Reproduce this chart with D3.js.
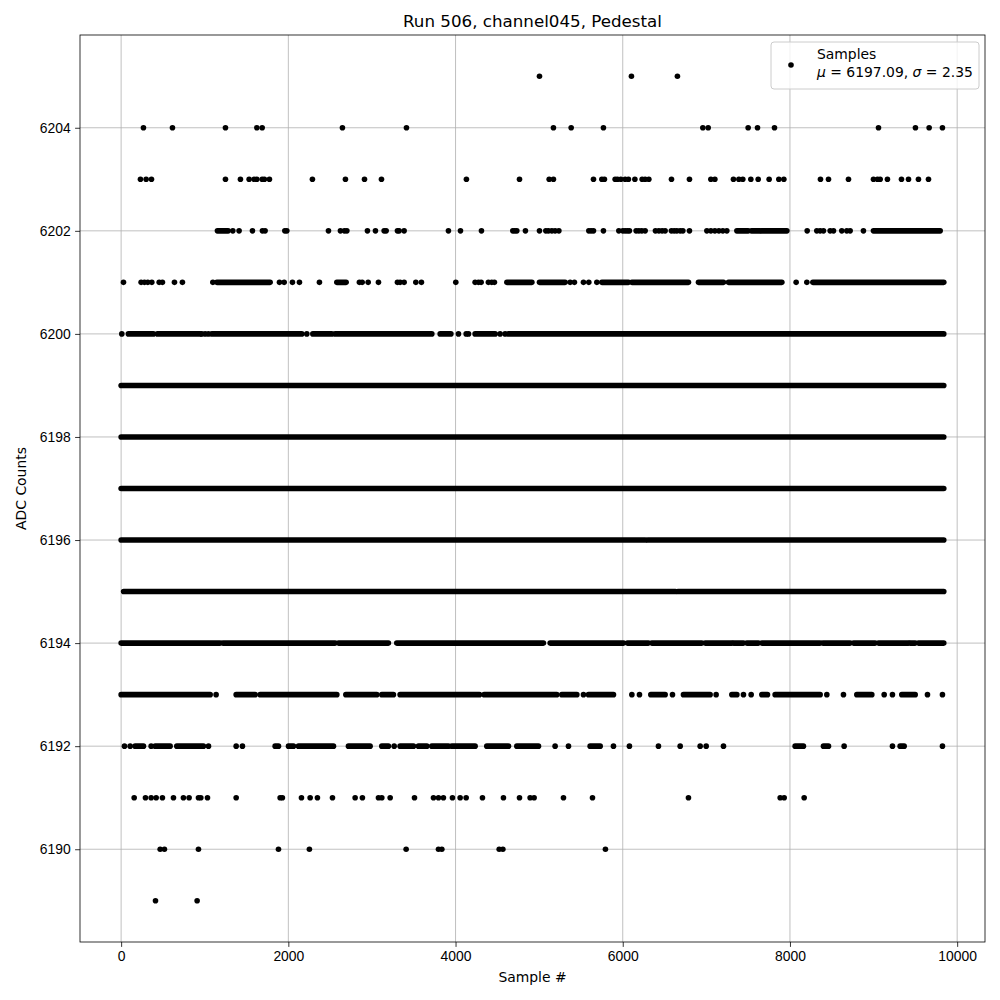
<!DOCTYPE html>
<meta charset="utf-8">
<style>
body { margin: 0; background: #fff; }
svg { font-family: "DejaVu Sans", sans-serif; }
.grid line { stroke: #b0b0b0; stroke-width: 0.8; }
.axis path, .axis line { stroke: #000; stroke-width: 0.8; }
.axis text { font-size: 13.9px; fill: #000; }
</style>
<svg width="1000" height="1000"></svg>
<script src="https://cdnjs.cloudflare.com/ajax/libs/d3/7.8.5/d3.min.js"></script>
<script>

// ADC level of each row, and for each row the sample numbers seen there.
// a plain number is one dot, a pair [from, to] is a run of dots that merge into a bar
var adcLevels = [6205, 6204, 6203, 6202, 6201, 6200, 6199, 6198, 6197, 6196, 6195, 6194, 6193, 6192, 6191, 6190, 6189];

var row6205 = [5004, 6104, 6654];
var row6204 = [267, 614, 1248, 1623, 1687, 2647, 3413, 5171, 5383, 5769, 6958, 7022, 7500, 7612, 7815, 9059, 9501, 9665, 9824];
var row6203 = [231, 299, 363, 1248, 1427, 1531, 1591, 1623, 1687, 1714, 1774, 2288, 2683, 2911, 3114, 4130, 4765, 5120, 5171,
  5650, 5750, 5781, 5909, 5937, 5977, 6029, 6068, 6145, 6232, 6268, 6312, 6583, 6798, 7054, 7102, 7324, 7389, 7436, 7532,
  7620, 7751, 7867, 7927, 8365, 8461, 8700, 8999, 9047, 9079, 9166, 9334, 9418, 9537, 9657];
var row6202 = [[1152, 1280], 1336, 1411, 1571, 1690, 1722, 1958, 1982, 2480, 2623, 2671, 2700, 2946, 3042, 3146, 3170, 3305, 3325,
  3385, 3915, 4059, 4310, 4685, 4709, 4733, 4836, 5004, 5080, 5111, 5152, 5191, 5236, 5594, 5622, 5650, 5769, 5953, 6001, 6029,
  6056, 6080, 6160, 6193, 6228, 6268, 6391, 6432, 6471, 6507, 6582, 6615, 6647, 6687, 6719, 6798, 7006, 7054, 7102, 7150, 7197,
  7245, [7365, 7500], [7540, 7640], [7660, 7963], 8206, 8321, 8361, 8401, 8481, 8521, 8620, 8680, 8720, 8879, [8999, 9797]];
var row6201 = [28, 239, 279, 319, 367, 455, 494, 638, 733, 1097, [1145, 1782], 1894, 1950, 2049, 2133, 2372, [2580, 2691], 2850,
  2883, 2955, 3078, 3305, 3337, 3385, 3525, 3592, 4003, 4234, 4274, 4306, 4393, 4433, 4465, [4614, 4913], [5004, 5311], 5371,
  5422, 5530, 5594, 5690, [5750, 6068], [6109, 6786], [6906, 7205], [7265, 7903], 8074, 8202, [8274, 9840]];
var row6200 = [8, [87, 386], [434, 945], 965, 1005, 1044, [1085, 2161], 2221, [2293, 2520], [2560, 3716], [3816, 3944], 4035,
  4127, 4155, [4234, 4474], 4533, 4593, [4633, 9840]];
var row6199 = [[0, 9840]];
var row6198 = [[0, 9840]];
var row6197 = [[0, 9840]];
var row6196 = [[0, 6270], [6300, 9840]];
var row6195 = [[30, 6630], [6660, 9840]];
var row6194 = [[0, 1184], [1216, 2560], [2600, 3197], [3297, 5051], [5132, 6009], [6056, 6307], [6347, 6946], [6986, 7305],
  [7325, 7444], [7484, 7623], [7664, 8361], [8393, 8720], [8760, 9019], [9059, 9418], [9438, 9498], [9537, 9840]];
var row6193 = [[0, 1065], 1136, [1376, 1603], [1663, 2580], [2688, 3058], [3118, 3257], [3337, 4286], [4342, 5211], [5271, 5451],
  5530, [5590, 5889], 6109, 6200, [6336, 6507], 6595, [6726, 7045], 7117, [7305, 7365], 7444, 7536, [7664, 7731], [7823, 8361],
  8441, 8640, [8800, 8979], 9127, 9226, [9338, 9498], 9645, 9824];
var row6192 = [40, 108, [167, 267], 359, [407, 586], [666, 984], 1045, 1376, 1451, [1842, 1882], [2002, 2061], [2121, 2540],
  [2719, 2978], [3118, 3197], 3266, [3337, 3497], [3556, 3657], [3716, 3915], [3955, 4234], [4374, 4633], [4733, 4992], 5191,
  5351, [5610, 5730], 5889, 6080, 6427, 6687, 6926, 6998, 7205, [8062, 8161], [8401, 8461], 8648, 9226, [9318, 9366], 9824];
var row6191 = [156, 291, 359, 419, 494, 626, 745, 813, 925, 953, 1033, 1376, 1902, 1929, 2157, 2261, 2348, 2528, 2799, 2886,
  3078, 3118, 3218, 3509, 3736, 3796, 3855, 3963, 4055, 4127, 4322, 4573, 4765, 4892, 4940, 5291, 5638, 6786, 7883, 7931, 8170];
var row6190 = [467, 518, 925, 1882, 2252, 3409, 3796, 3836, 4522, 4566, 5793];
var row6189 = [411, 909];

var rows = [row6205, row6204, row6203, row6202, row6201, row6200, row6199, row6198, row6197,
            row6196, row6195, row6194, row6193, row6192, row6191, row6190, row6189];

var xTicks = [0, 2000, 4000, 6000, 8000, 10000],
    yTicks = [6190, 6192, 6194, 6196, 6198, 6200, 6202, 6204];

var titleText = "Run 506, channel045, Pedestal",
    meanText = "6197.09",
    sigmaText = "2.35";

var plotL = 80, plotR = 985, plotT = 35, plotB = 942,
    dotR = 2.8;

var svg = d3.select("svg");

var x = d3.scaleLinear().domain([-492, 10333]).range([plotL, plotR]);
var y = d3.scaleLinear().domain([6188.2, 6205.8]).range([plotB, plotT]);

// grid
var grid = svg.append("g").attr("class", "grid");
grid.selectAll(".gx").data(xTicks).enter().append("line")
    .attr("x1", function(d) { return x(d); }).attr("x2", function(d) { return x(d); })
    .attr("y1", plotT).attr("y2", plotB);
grid.selectAll(".gy").data(yTicks).enter().append("line")
    .attr("y1", function(d) { return y(d); }).attr("y2", function(d) { return y(d); })
    .attr("x1", plotL).attr("x2", plotR);

// flatten into runs and single dots
var runs = [], dots = [];
rows.forEach(function(list, i) {
  list.forEach(function(v) {
    if (Array.isArray(v)) runs.push({ level: adcLevels[i], a: v[0], b: v[1] });
    else dots.push({ level: adcLevels[i], s: v });
  });
});

var marks = svg.append("g");
marks.selectAll("line").data(runs).enter().append("line")
    .attr("x1", function(d) { return x(d.a); })
    .attr("x2", function(d) { return x(d.b); })
    .attr("y1", function(d) { return y(d.level); })
    .attr("y2", function(d) { return y(d.level); })
    .attr("stroke", "#000")
    .attr("stroke-width", dotR * 2)
    .attr("stroke-linecap", "round");
marks.selectAll("circle").data(dots).enter().append("circle")
    .attr("cx", function(d) { return x(d.s); })
    .attr("cy", function(d) { return y(d.level); })
    .attr("r", dotR)
    .attr("fill", "#000");

// axes
svg.append("g").attr("class", "axis")
    .attr("transform", "translate(0," + plotB + ")")
    .call(d3.axisBottom(x).tickValues(xTicks).tickSize(4.9).tickPadding(4.5).tickFormat(d3.format("d")))
    .call(function(g) { g.select(".domain").remove(); });
svg.append("g").attr("class", "axis")
    .attr("transform", "translate(" + plotL + ",0)")
    .call(d3.axisLeft(y).tickValues(yTicks).tickSize(4.9).tickPadding(4.5).tickFormat(d3.format("d")))
    .call(function(g) { g.select(".domain").remove(); });

svg.append("rect")
    .attr("x", plotL).attr("y", plotT)
    .attr("width", plotR - plotL).attr("height", plotB - plotT)
    .attr("fill", "none").attr("stroke", "#000").attr("stroke-width", 0.8);

// labels
svg.append("text")
    .attr("x", (plotL + plotR) / 2).attr("y", 27)
    .attr("text-anchor", "middle").style("font-size", "16.7px")
    .text(titleText);
svg.append("text")
    .attr("x", (plotL + plotR) / 2).attr("y", 982)
    .attr("text-anchor", "middle").style("font-size", "13.9px")
    .text("Sample #");
svg.append("text")
    .attr("transform", "translate(26," + (plotT + plotB) / 2 + ") rotate(-90)")
    .attr("text-anchor", "middle").style("font-size", "13.9px")
    .text("ADC Counts");

// legend
var legend = svg.append("g").attr("transform", "translate(771,42)");
legend.append("rect")
    .attr("width", 208).attr("height", 47).attr("rx", 3)
    .attr("fill", "#fff").attr("fill-opacity", 0.8)
    .attr("stroke", "#ccc").attr("stroke-width", 1);
legend.append("circle").attr("cx", 20).attr("cy", 23).attr("r", dotR).attr("fill", "#000");
legend.append("text").attr("x", 46).attr("y", 17).style("font-size", "13.9px").text("Samples");
var stat = legend.append("text").attr("x", 46).attr("y", 35).style("font-size", "13.9px");
stat.append("tspan").style("font-style", "italic").text("\u03bc");
stat.append("tspan").text(" = " + meanText + ", ");
stat.append("tspan").style("font-style", "italic").text("\u03c3");
stat.append("tspan").text(" = " + sigmaText);

</script>
